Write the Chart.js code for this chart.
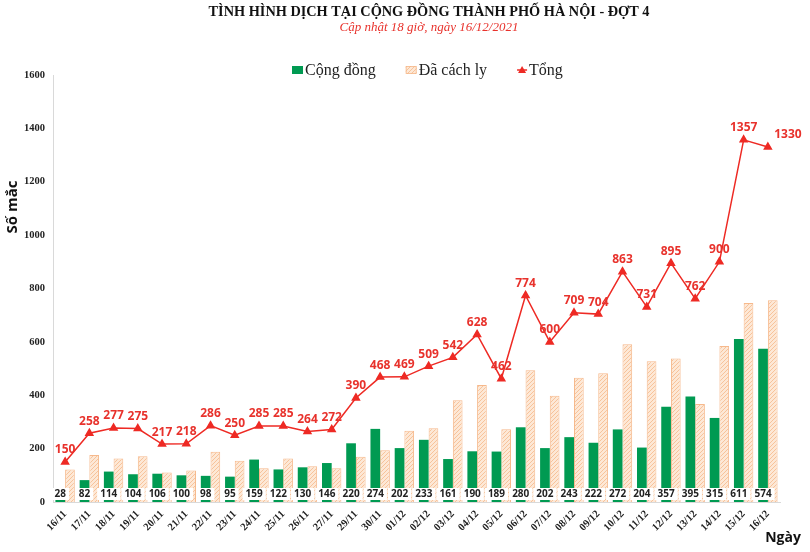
<!DOCTYPE html>
<html><head><meta charset="utf-8">
<script src="https://cdn.jsdelivr.net/npm/chart.js@4.4.0/dist/chart.umd.min.js"></script>
<style>html,body{margin:0;padding:0;background:#fff}#wrap{width:810px;height:552px}</style>
</head><body><div id="wrap"><canvas id="c" width="810" height="552"></canvas></div>
<script>
const categories = ['16/11','17/11','18/11','19/11','20/11','21/11','22/11','23/11','24/11','25/11','26/11','27/11','29/11','30/11','01/12','02/12','03/12','04/12','05/12','06/12','07/12','08/12','09/12','10/12','11/12','12/12','13/12','14/12','15/12','16/12'];
const congDong = [28,82,114,104,106,100,98,95,159,122,130,146,220,274,202,233,161,190,189,280,202,243,222,272,204,357,395,315,611,574];
const daCachLy = [122,176,163,171,111,118,188,155,126,163,134,126,170,194,267,276,381,438,273,494,398,466,482,591,527,538,367,585,746,756];
const tong = [150,258,277,275,217,218,286,250,285,285,264,272,390,468,469,509,542,628,462,774,600,709,704,863,731,895,762,900,1357,1330];
const yTicks = [0,200,400,600,800,1000,1200,1400,1600];
const seriesNames = ['Cộng đồng','Đã cách ly','Tổng'];
const titleText = 'TÌNH HÌNH DỊCH TẠI CỘNG ĐỒNG THÀNH PHỐ HÀ NỘI - ĐỢT 4';
const subtitleText = 'Cập nhật 18 giờ, ngày 16/12/2021';
const yTitle = 'Số mắc';
const xTitle = 'Ngày';

const GREEN = '#009a52';
const ORANGE_BORDER = '#f6b98c';
const RED = '#ee2a24';
const canvas = document.getElementById('c');
const ctx0 = canvas.getContext('2d');
function makeHatch(){
  const p = document.createElement('canvas'); p.width = 4; p.height = 4;
  const g = p.getContext('2d');
  g.fillStyle = '#fde8d6'; g.fillRect(0,0,4,4);
  g.fillStyle = '#f7c39b';
  g.fillRect(0,0,1,1); g.fillRect(2,2,1,1); g.fillRect(1,3,1,1); g.fillRect(3,1,1,1);
  return ctx0.createPattern(p,'repeat');
}
const hatch = makeHatch();

const overlay = {
  id:'overlay',
  afterDraw(chart){
    const ctx = chart.ctx;
    ctx.save();
    ctx.textAlign = 'center'; ctx.textBaseline = 'middle';
    ctx.fillStyle = '#111';
    ctx.font = 'bold 14.3px "Liberation Serif"';
    ctx.fillText(titleText, 429, 12);
    ctx.fillStyle = '#e8322c';
    ctx.font = 'italic 13px "Liberation Serif"';
    ctx.fillText(subtitleText, 429, 28);
    ctx.font = '16px "Liberation Serif"';
    ctx.textAlign = 'left';
    let x = 292; const ly = 70;
    ctx.fillStyle = GREEN; ctx.fillRect(x, ly-4, 11, 8);
    x += 13; ctx.fillStyle = '#222'; ctx.fillText(seriesNames[0], x, ly+1);
    x += ctx.measureText(seriesNames[0]).width + 30;
    ctx.fillStyle = hatch; ctx.fillRect(x, ly-4, 11, 8);
    ctx.strokeStyle = ORANGE_BORDER; ctx.lineWidth = 0.8; ctx.strokeRect(x+0.5, ly-3.5, 10, 7);
    x += 13; ctx.fillStyle = '#222'; ctx.fillText(seriesNames[1], x, ly+1);
    x += ctx.measureText(seriesNames[1]).width + 30;
    ctx.strokeStyle = RED; ctx.lineWidth = 1.5;
    ctx.beginPath(); ctx.moveTo(x, ly); ctx.lineTo(x+10, ly); ctx.stroke();
    ctx.fillStyle = RED; ctx.beginPath(); ctx.moveTo(x+5, ly-4); ctx.lineTo(x+9, ly+3); ctx.lineTo(x+1, ly+3); ctx.closePath(); ctx.fill();
    x += 12; ctx.fillStyle = '#222'; ctx.fillText(seriesNames[2], x, ly+1);
    ctx.fillStyle = '#111';
    ctx.font = 'bold 15px "Open Sans"';
    ctx.save(); ctx.translate(13, 207); ctx.rotate(-Math.PI/2);
    ctx.textAlign = 'center'; ctx.fillText(yTitle, 0, 0); ctx.restore();
    ctx.font = 'bold 14px "Open Sans"'; ctx.textAlign = 'center';
    ctx.fillText(xTitle, 783, 538);
    const yScale = chart.scales.y;
    const base = yScale.getPixelForValue(0);
    const m0 = chart.getDatasetMeta(0);
    ctx.font = 'bold 10px "Open Sans"';
    m0.data.forEach((el,i)=>{
      const t = String(congDong[i]);
      const w = ctx.measureText(t).width + 6;
      ctx.fillStyle = '#fff'; ctx.fillRect(el.x - w/2, base - 14, w, 12);
      ctx.fillStyle = '#222'; ctx.fillText(t, el.x, base - 7.5);
    });
    const m2 = chart.getDatasetMeta(2);
    ctx.font = 'bold 12px "Open Sans"'; ctx.fillStyle = '#e8322c';
    m2.data.forEach((el,i)=>{
      const dx = (i === m2.data.length-1) ? 20 : 0;
      ctx.fillText(String(tong[i]), el.x + dx, el.y - 12);
    });
    ctx.restore();
  }
};

new Chart(canvas, {
  data:{
    labels: categories,
    datasets:[
      {type:'bar', label:seriesNames[0], data:congDong, backgroundColor:GREEN, borderWidth:0, order:1, categoryPercentage:0.8, barPercentage:1.0},
      {type:'bar', label:seriesNames[1], data:daCachLy, backgroundColor:hatch, borderColor:ORANGE_BORDER, borderWidth:1, order:1, categoryPercentage:0.8, barPercentage:1.0},
      {type:'line', label:seriesNames[2], data:tong, borderColor:RED, backgroundColor:RED, borderWidth:1.5, pointStyle:'triangle', pointRadius:4, pointHoverRadius:4, tension:0, order:0}
    ]
  },
  options:{
    responsive:false, animation:false, devicePixelRatio:1,
    layout:{padding:{left:0, right:30, top:75, bottom:20}},
    plugins:{legend:{display:false}, tooltip:{enabled:false}, title:{display:false}},
    scales:{
      x:{
        grid:{display:false, tickLength:0}, border:{color:'#d9d9d9'},
        ticks:{autoSkip:false, maxRotation:45, minRotation:45, padding:6, color:'#222', font:{family:'"Liberation Serif"', size:10.5, weight:'bold'}},
        afterFit(s){ s.height = 30; }
      },
      y:{
        min:0, max:1600,
        grid:{display:false, tickLength:0}, border:{color:'#d9d9d9'},
        afterBuildTicks(s){ s.ticks = yTicks.map(v=>({value:v})); },
        ticks:{padding:8, color:'#222', font:{family:'"Liberation Serif"', size:10.5, weight:'bold'}, callback:(v)=>String(v)},
        afterFit(s){ s.width = 53; }
      }
    }
  },
  plugins:[overlay]
});
</script></body></html>
